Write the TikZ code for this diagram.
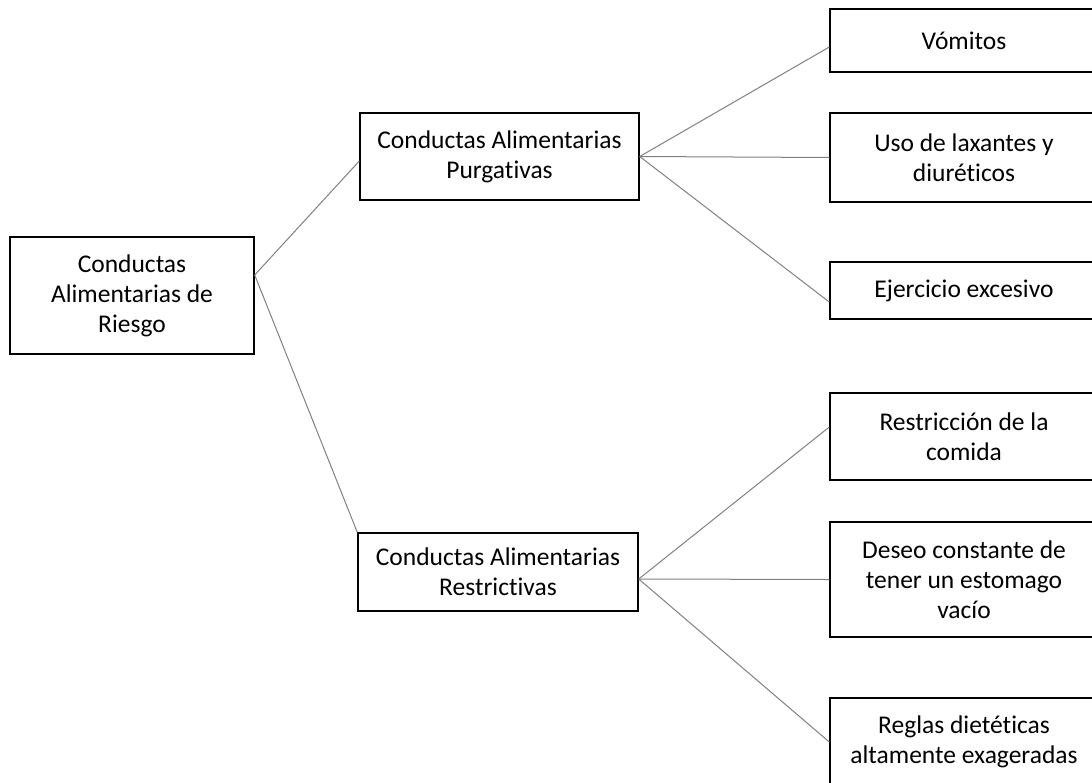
\documentclass[tikz,border=0pt]{standalone}
\usepackage{fontspec}
\setmainfont{Carlito}[Ligatures={NoCommon}]
\begin{document}
\begin{tikzpicture}[x=1pt,y=-1pt,
  box/.style={draw=black, line width=1.4pt, fill=white, align=center, inner sep=0pt,
    font=\fontsize{25.5}{30}\selectfont},
  link/.style={draw=black!50, line width=1pt}]
\useasboundingbox (0,0) rectangle (1092,782);
\clip (0,0) rectangle (1092,782);
% level 0
\node[box, minimum width=244pt, minimum height=117pt] (root) at (132,295.5) {Conductas\\Alimentarias de\\Riesgo};
% level 1
\node[box, minimum width=279pt, minimum height=87pt] (purg) at (499.5,156.5) {Conductas Alimentarias\\Purgativas};
\node[box, minimum width=280pt, minimum height=78pt] (restr) at (498,572) {Conductas Alimentarias\\Restrictivas};
% level 2
\node[box, minimum width=268pt, minimum height=63pt] (vom) at (964,40.5) {Vómitos};
\node[box, minimum width=268pt, minimum height=89pt] (uso) at (964,157.5) {Uso de laxantes y\\diuréticos};
\node[box, minimum width=268pt, minimum height=57pt] (ejer) at (964,290.5) {Ejercicio excesivo};
\node[box, minimum width=268pt, minimum height=87pt] (rest) at (964,436.5) {Restricción de la\\comida};
\node[box, minimum width=268pt, minimum height=115pt] (deseo) at (964,579.5) {Deseo constante de\\tener un estomago\\vacío};
\node[box, minimum width=268pt, minimum height=88pt] (reglas) at (964,742) {Reglas dietéticas\\altamente exageradas};
% connection points
\coordinate (rootout) at ([yshift=20.5pt]root.east);
\coordinate (purgin) at ([yshift=-4.5pt]purg.west);
\coordinate (restrout) at ([yshift=-7pt]restr.east);
\coordinate (vomin) at ([yshift=-6.5pt]vom.west);
\coordinate (ejerin) at ([yshift=-11.5pt]ejer.west);
\coordinate (restin) at ([yshift=9.5pt]rest.west);
% connectors
\draw[link] (rootout) -- (purgin);
\draw[link] (rootout) -- (restr.north west);
\draw[link] (purg.east) -- (vomin);
\draw[link] (purg.east) -- (uso.west);
\draw[link] (purg.east) -- (ejerin);
\draw[link] (restrout) -- (restin);
\draw[link] (restrout) -- (deseo.west);
\draw[link] (restrout) -- (reglas.west);
\end{tikzpicture}
\end{document}
